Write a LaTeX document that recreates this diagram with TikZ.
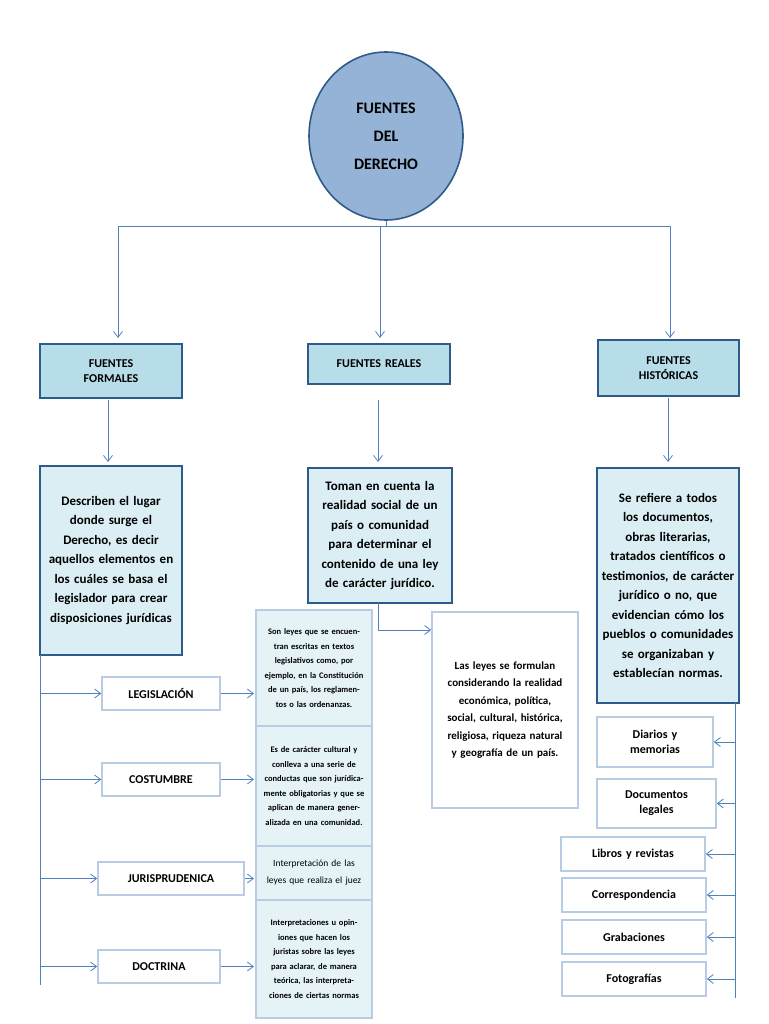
\documentclass[tikz,border=0pt]{standalone}
\usepackage{fontspec}
\setmainfont{Carlito}
\usetikzlibrary{arrows.meta,shapes.geometric}
\definecolor{ln}{HTML}{4F81BD}
\definecolor{dk}{HTML}{2E5C8A}
\definecolor{hd}{HTML}{B7DDE8}
\definecolor{ds}{HTML}{DAEEF3}
\definecolor{lb}{HTML}{B8CCE4}
\definecolor{el}{HTML}{95B3D7}
\tikzset{
 conn/.style={draw=ln,line width=0.8pt,-{Straight Barb[length=6pt,width=9pt]}},
 plain/.style={draw=ln,line width=0.8pt},
 hbox/.style={draw=dk,line width=1.6pt,fill=hd,font=\bfseries\fontsize{12}{15}\selectfont,align=center,inner sep=0pt},
 dbox/.style={draw=dk,line width=1.6pt,fill=ds,font=\bfseries\fontsize{13}{19.5}\selectfont,align=center,inner sep=0pt},
 wbox/.style={draw=lb,line width=1.6pt,fill=white,font=\bfseries\fontsize{12}{15}\selectfont,align=center,inner sep=0pt},
 sbox/.style={draw=lb,line width=1.2pt,fill=ds!70,font=\bfseries\fontsize{8.5}{14.5}\selectfont,align=center,inner sep=0pt},
}
\newcommand{\bx}[6]{\node[#1,minimum width=#4-#2,minimum height=#5-#3,text width=#4-#2-8] (#6) at ({(#2+#4)/2},{(#3+#5)/2}) }
\begin{document}
\begin{tikzpicture}[x=1pt,y=-1pt]
\useasboundingbox (0,0) rectangle (768,1024);
\node[ellipse,draw=dk,line width=1.6pt,fill=el,minimum width=154,minimum height=168,inner sep=0pt,align=center,font=\bfseries\fontsize{16}{28}\selectfont] (root) at (386,136) {FUENTES\\DEL\\DERECHO};
\bx{hbox}{40}{344}{182}{398}{ff}{FUENTES\\FORMALES};
\bx{hbox}{308}{344}{450}{384}{fr}{FUENTES REALES};
\bx{hbox}{598}{340}{739}{396}{fh}{FUENTES\\HISTÓRICAS};
\coordinate (j) at (386,226);
\coordinate (jl) at (118,226);
\coordinate (jr) at (670,226);
\draw[plain] (root.south) -- (j);
\draw[plain] (jl) -- (jr);
\draw[conn] (jl) -- (118,338);
\draw[conn] (j) ++(-6,0) -- (380,338);
\draw[conn] (jr) -- (670,338);
\bx{dbox}{40}{466}{182}{655}{dl}{Describen el lugar donde surge el Derecho, es decir aquellos elementos en los cuáles se basa el legislador para crear disposiciones jurídicas};
\bx{dbox}{308}{468}{452}{603}{dm}{Toman en cuenta la realidad social de un país o comunidad para determinar el contenido de una ley de carácter jurídico.};
\bx{dbox}{597}{468}{739}{703}{dr}{Se refiere a todos los documentos, obras literarias, tratados científicos o testimonios, de carácter jurídico o no, que evidencian cómo los pueblos o comunidades se organizaban y establecían normas.};
\draw[conn] (108,400) -- (108,462);
\draw[conn] (378,400) -- (378,462);
\draw[conn] (668,398) -- (668,462);
\node[wbox,font=\bfseries\fontsize{11}{17.5}\selectfont,minimum width=146,minimum height=196,text width=130] (ly) at (505,710) {Las leyes se formulan considerando la realidad económica, política, social, cultural, histórica, religiosa, riqueza natural y geografía de un país.};
\draw[conn] (378,603) |- (ly.west |- 0,630);
% left column
\draw[plain] (40,655) -- (40,985);
\bx{wbox}{102}{677}{220}{710}{leg}{LEGISLACIÓN};
\bx{wbox}{102}{763}{220}{796}{cos}{COSTUMBRE};
\bx{wbox}{98}{862}{244}{895}{jur}{JURISPRUDENICA};
\bx{wbox}{98}{950}{220}{983}{doc}{DOCTRINA};
\foreach \n in {leg,cos,jur,doc}{\draw[conn] (40,0 |- \n.west) -- (\n.west);}
\bx{sbox}{256}{610}{372}{726}{s1}{Son leyes que se encuentran escritas en textos legislativos como, por ejemplo, en la Constitución de un país, los reglamentos o las ordenanzas.};
\bx{sbox}{256}{726}{372}{846}{s2}{Es de carácter cultural y conlleva a una serie de conductas que son jurídicamente obligatorias y que se aplican de manera generalizada en una comunidad.};
\bx{sbox,font=\fontsize{9.5}{17}\selectfont}{256}{846}{372}{900}{s3}{Interpretación de las leyes que realiza el juez};
\bx{sbox}{256}{900}{372}{1018}{s4}{Interpretaciones u opiniones que hacen los juristas sobre las leyes para aclarar, de manera teórica, las interpretaciones de ciertas normas};
\draw[conn] (leg.east) -- (254,0 |- leg.east);
\draw[conn] (cos.east) -- (254,0 |- cos.east);
\draw[conn] (jur.east) -- (254,0 |- jur.east);
\draw[conn] (doc.east) -- (254,0 |- doc.east);
% right column
\draw[plain] (735,703) -- (735,998);
\bx{wbox}{597}{717}{713}{767}{dia}{Diarios y\\memorias};
\bx{wbox}{597}{779}{716}{828}{dle}{Documentos\\legales};
\bx{wbox}{561}{837}{705}{871}{lib}{Libros y revistas};
\bx{wbox}{562}{878}{706}{912}{cor}{Correspondencia};
\bx{wbox}{562}{920}{706}{954}{gra}{Grabaciones};
\bx{wbox}{562}{962}{706}{996}{fot}{Fotografías};
\foreach \n in {dia,dle,lib,cor,gra,fot}{\draw[conn] (735,0 |- \n.east) -- (\n.east);}
\end{tikzpicture}
\end{document}
